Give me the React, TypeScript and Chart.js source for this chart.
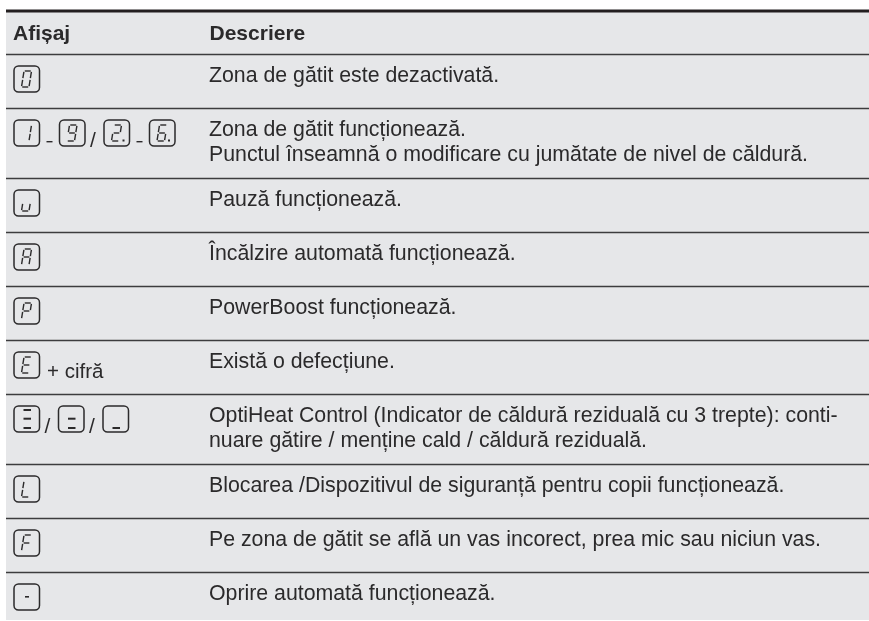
import React, { useEffect, useRef } from "react";
import { Chart, registerables } from "chart.js";

Chart.register(...registerables);

const headers = ["Afișaj", "Descriere"];

type Tok = { box?: string; dot?: boolean; sep?: string; text?: string };

const displays: Tok[][] = [
  [{ box: "0" }],
  [{ box: "1" }, { sep: "-" }, { box: "9" }, { sep: "/" }, { box: "2", dot: true }, { sep: "-" }, { box: "6", dot: true }],
  [{ box: "u" }],
  [{ box: "A" }],
  [{ box: "P" }],
  [{ box: "E" }, { text: "+ cifră" }],
  [{ box: "h3" }, { sep: "/" }, { box: "h2" }, { sep: "/" }, { box: "h1" }],
  [{ box: "L" }],
  [{ box: "F" }],
  [{ box: "-" }],
];

const descriptions: string[][] = [
  ["Zona de gătit este dezactivată."],
  ["Zona de gătit funcționează.", "Punctul înseamnă o modificare cu jumătate de nivel de căldură."],
  ["Pauză funcționează."],
  ["Încălzire automată funcționează."],
  ["PowerBoost funcționează."],
  ["Există o defecțiune."],
  ["OptiHeat Control (Indicator de căldură reziduală cu 3 trepte): conti-", "nuare gătire / menține cald / căldură reziduală."],
  ["Blocarea /Dispozitivul de siguranță pentru copii funcționează."],
  ["Pe zona de gătit se află un vas incorect, prea mic sau niciun vas."],
  ["Oprire automată funcționează."],
];

const segmentsOf: Record<string, string> = {
  "0": "abcdef",
  "1": "bc",
  "2": "abged",
  "6": "acdefg",
  "9": "abcdfg",
  u: "cde",
  A: "abcefg",
  P: "abefg",
  E: "adefg",
  L: "def",
  F: "aefg",
};

const INK = "#2b2a2b";
const FONT = '"Liberation Sans", Arial, sans-serif';
const LEFT = 6;
const RIGHT = 869;
const TOP = 11;
const HEADER_BOTTOM = 54.5;
const ruleYs = (() => {
  const out = [TOP, HEADER_BOTTOM];
  let y = HEADER_BOTTOM;
  descriptions.forEach((d) => {
    y += d.length > 1 ? 70 : 54;
    out.push(y);
  });
  return out;
})();
const BOTTOM = 620;

const SEG: Record<string, [number, number, number, number]> = {
  a: [0.1, 0, 0.9, 0],
  b: [1, 0.05, 1, 0.45],
  c: [1, 0.55, 1, 0.95],
  d: [0.1, 1, 0.9, 1],
  e: [0, 0.55, 0, 0.95],
  f: [0, 0.05, 0, 0.45],
  g: [0.12, 0.5, 0.88, 0.5],
};

function drawGlyph(ctx: CanvasRenderingContext2D, bx: number, by: number, g: string, dot: boolean) {
  ctx.strokeStyle = INK;
  ctx.fillStyle = INK;
  if (g.startsWith("h")) {
    const n = Number(g[1]);
    const bars = [22, 12.7, 4].slice(0, n);
    bars.forEach((o) => ctx.fillRect(bx + 9.5, by + o - 1, 7.5, 2));
    return;
  }
  if (g === "-") {
    ctx.fillRect(bx + 11, by + 12, 4, 1.6);
    return;
  }
  const map = (u: number, v: number): [number, number] => [bx + 7.5 + u * 7.5 + (1 - v) * 2.5, by + 5 + v * 16];
  ctx.lineWidth = 1.4;
  ctx.lineCap = "butt";
  (segmentsOf[g] || "").split("").forEach((s) => {
    const [u0, v0, u1, v1] = SEG[s];
    const [x0, y0] = map(u0, v0);
    const [x1, y1] = map(u1, v1);
    ctx.beginPath();
    ctx.moveTo(x0, y0);
    ctx.lineTo(x1, y1);
    ctx.stroke();
  });
  if (dot) ctx.fillRect(bx + 18.5, by + 19.5, 2, 2);
}

function drawBox(ctx: CanvasRenderingContext2D, bx: number, by: number) {
  ctx.strokeStyle = INK;
  ctx.lineWidth = 1.5;
  ctx.beginPath();
  ctx.roundRect(bx, by, 25.5, 26, 4.5);
  ctx.stroke();
}

const tablePlugin = {
  id: "table",
  beforeDatasetsDraw(chart: any) {
    const { ctx, scales } = chart;
    const X = (v: number) => scales.x.getPixelForValue(v);
    const Y = (v: number) => scales.y.getPixelForValue(v);
    ctx.save();
    ctx.fillStyle = "#e6e7e9";
    ctx.fillRect(X(LEFT), Y(TOP), X(RIGHT) - X(LEFT), Y(BOTTOM) - Y(TOP));
    ctx.restore();
  },
  afterDatasetsDraw(chart: any) {
    const { ctx, scales } = chart;
    const X = (v: number) => scales.x.getPixelForValue(v);
    const Y = (v: number) => scales.y.getPixelForValue(v);
    ctx.save();
    ctx.filter = "blur(0.35px)";
    ctx.textBaseline = "alphabetic";
    ctx.fillStyle = INK;
    ctx.font = `bold 21px ${FONT}`;
    ctx.fillText(headers[0], X(13), Y(39.5));
    ctx.fillText(headers[1], X(209.5), Y(39.5));

    descriptions.forEach((lines, i) => {
      const top = ruleYs[i + 1];
      ctx.font = `21.3px ${FONT}`;
      ctx.fillStyle = INK;
      lines.forEach((ln, k) => ctx.fillText(ln, X(209), Y(top + 27.5 + k * 25)));
      let x = 14;
      const by = top + 11.5;
      displays[i].forEach((t) => {
        if (t.box) {
          drawBox(ctx, X(x), Y(by));
          drawGlyph(ctx, X(x), Y(by), t.box, !!t.dot);
          x += 25.5;
        } else if (t.sep === "/") {
          ctx.font = `21px ${FONT}`;
          ctx.fillStyle = INK;
          ctx.fillText("/", X(x + 5), Y(by + 27));
          x += 19;
        } else if (t.sep === "-") {
          ctx.fillStyle = INK;
          ctx.fillRect(X(x + 7), Y(by + 21), 6, 1.4);
          x += 20;
        } else if (t.text) {
          ctx.font = `20.5px ${FONT}`;
          ctx.fillStyle = INK;
          ctx.fillText(t.text, X(x + 7.5), Y(by + 25.5));
        }
      });
    });
    ctx.restore();
  },
};

export default function App() {
  const ref = useRef<HTMLCanvasElement>(null);
  useEffect(() => {
    document.body.style.margin = "0";
    document.body.style.background = "#ffffff";
    const ruleDatasets = ruleYs.map((y, i) => ({
      type: "line" as const,
      data: [
        { x: LEFT, y },
        { x: RIGHT, y },
      ],
      borderColor: i === 0 ? "#231f20" : "#3c3c3e",
      borderWidth: i === 0 ? 3 : 1.5,
      pointRadius: 0,
    }));
    const chart = new Chart(ref.current as HTMLCanvasElement, {
      type: "line",
      data: { datasets: ruleDatasets },
      plugins: [tablePlugin],
      options: {
        animation: false,
        responsive: false,
        parsing: false,
        layout: { padding: 0 },
        plugins: { legend: { display: false }, tooltip: { enabled: false }, title: { display: false } },
        scales: {
          x: { type: "linear", min: 0, max: 869, display: false },
          y: { type: "linear", min: 0, max: 621, reverse: true, display: false },
        },
      },
    } as any);
    return () => chart.destroy();
  }, []);
  return <canvas ref={ref} width={869} height={621} style={{ display: "block", width: 869, height: 621 }} />;
}
